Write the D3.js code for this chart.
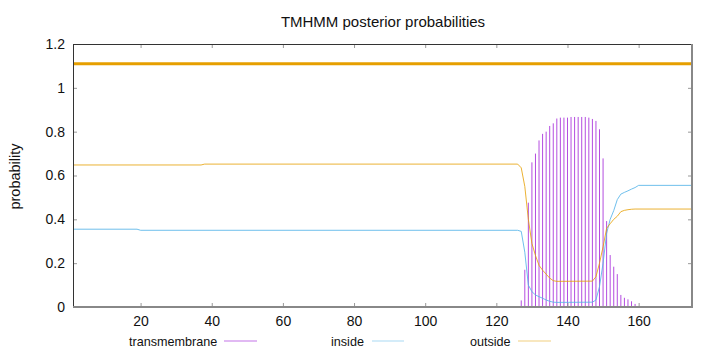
<!DOCTYPE html>
<html>
<head>
<meta charset="utf-8">
<script src="https://cdn.jsdelivr.net/npm/d3@7"></script>
<style>
  html, body { margin: 0; padding: 0; background: #fff; }
  svg { display: block; font-family: "Liberation Sans", Arial, Helvetica, sans-serif; }
</style>
</head>
<body>
<svg id="chart" width="720" height="352"></svg>
<script>
// ---- data ----
const seqLength = 175;
const xTicks = [20, 40, 60, 80, 100, 120, 140, 160];
const yTicks = [0, 0.2, 0.4, 0.6, 0.8, 1, 1.2];
const yTickLabels = ["0", "0.2", "0.4", "0.6", "0.8", "1", "1.2"];
const legendLabels = ["transmembrane", "inside", "outside"];

// transmembrane posterior probability (impulses) per residue
const tmPos = [20,21,22,23,24,25,26,27,28,29,30,31,32,33,34,35,36,37,
  127,128,129,130,131,132,133,134,135,136,137,138,139,140,141,142,143,144,145,146,147,148,149,150,151,152,153,154,155,156,157,158,159];
const tmVal = [0.004,0.004,0.004,0.004,0.004,0.004,0.004,0.004,0.004,0.004,0.004,0.004,0.004,0.004,0.004,0.004,0.004,0.004,
  0.03,0.17,0.476,0.66,0.70,0.76,0.79,0.80,0.826,0.838,0.86,0.864,0.864,0.864,0.867,0.867,0.867,0.867,0.867,0.864,0.858,0.849,0.811,0.678,0.392,0.237,0.184,0.15,0.055,0.042,0.035,0.026,0.014];

// inside probability (line) — vertices where it changes
const insidePos = [1, 19, 20, 126, 127, 128, 129, 130, 131, 132, 133, 134, 135, 136, 137, 147, 148, 149, 150, 151, 152, 153, 154, 155, 156, 157, 158, 159, 160, 175];
const insideVal = [0.355, 0.355, 0.350, 0.350, 0.345, 0.25, 0.10, 0.07, 0.055, 0.047, 0.040, 0.032, 0.026, 0.022, 0.021, 0.022, 0.032, 0.093, 0.20, 0.336, 0.40, 0.44, 0.49, 0.515, 0.523, 0.53, 0.538, 0.545, 0.555, 0.555];

// outside probability (line) — vertices where it changes
const outsidePos = [1, 37, 38, 126, 127, 128, 129, 130, 131, 132, 133, 134, 135, 136, 137, 147, 148, 149, 150, 151, 152, 153, 154, 155, 156, 157, 158, 159, 175];
const outsideVal = [0.648, 0.648, 0.652, 0.652, 0.635, 0.55, 0.40, 0.29, 0.235, 0.19, 0.168, 0.15, 0.132, 0.12, 0.117, 0.118, 0.138, 0.20, 0.275, 0.359, 0.38, 0.40, 0.414, 0.435, 0.441, 0.444, 0.446, 0.447, 0.447];

// predicted topology band (whole sequence outside)
const topoStart = [1];
const topoEnd = [175];
const topoLevel = [1.11];

// ---- drawing ----
const svg = d3.select("#chart");
const mLeft = 73, mRight = 692, mTop = 44, mBottom = 307;
const x = d3.scaleLinear().domain([1, seqLength]).range([mLeft, mRight]);
const y = d3.scaleLinear().domain([0, 1.2]).range([mBottom, mTop]);

const cTM = "#9400D3", cIn = "#56B4E9", cOut = "#E69F00";

// title
svg.append("text").attr("x", (mLeft + mRight) / 2 + 0.5).attr("y", 26.5)
  .attr("text-anchor", "middle").attr("font-size", 15).attr("fill", "#111")
  .text("TMHMM posterior probabilities");

// y label
svg.append("text").attr("transform", `translate(19.5,${(mTop + mBottom) / 2 + 1}) rotate(-90)`)
  .attr("text-anchor", "middle").attr("font-size", 14.5).attr("fill", "#111")
  .text("probability");

// impulses
svg.append("g").selectAll("line").data(tmPos.map((p, i) => [p, tmVal[i]])).join("line")
  .attr("x1", d => x(d[0])).attr("x2", d => x(d[0]))
  .attr("y1", y(0)).attr("y2", d => y(d[1]))
  .attr("stroke", cTM).attr("stroke-opacity", 0.7).attr("stroke-width", 1);

// lines
const line = d3.line().x(d => x(d[0])).y(d => y(d[1]));
svg.append("path").datum(insidePos.map((p, i) => [p, insideVal[i]]))
  .attr("d", line).attr("fill", "none").attr("stroke", cIn).attr("stroke-opacity", 0.85).attr("stroke-width", 1);
svg.append("path").datum(outsidePos.map((p, i) => [p, outsideVal[i]]))
  .attr("d", line).attr("fill", "none").attr("stroke", cOut).attr("stroke-opacity", 0.8).attr("stroke-width", 1);

// topology band
svg.append("g").selectAll("line").data(topoStart.map((s, i) => [s, topoEnd[i], topoLevel[i]])).join("line")
  .attr("x1", d => x(d[0])).attr("x2", d => x(d[1]))
  .attr("y1", d => y(d[2])).attr("y2", d => y(d[2]))
  .attr("stroke", cOut).attr("stroke-width", 3);

// axes
const xAxis = svg.append("g").attr("transform", `translate(0,${mBottom})`)
  .call(d3.axisBottom(x).tickValues(xTicks).tickSizeInner(-4).tickSizeOuter(0).tickPadding(9.5).tickFormat(d3.format("d")));
const xAxisTop = svg.append("g").attr("transform", `translate(0,${mTop})`)
  .call(d3.axisTop(x).tickValues(xTicks).tickSizeInner(-4).tickSizeOuter(0).tickFormat(""));
const yAxis = svg.append("g").attr("transform", `translate(${mLeft},0)`)
  .call(d3.axisLeft(y).tickValues(yTicks).tickSizeInner(-4).tickSizeOuter(0).tickPadding(8)
    .tickFormat((d, i) => yTickLabels[i]));
const yAxisR = svg.append("g").attr("transform", `translate(${mRight},0)`)
  .call(d3.axisRight(y).tickValues(yTicks).tickSizeInner(-4).tickSizeOuter(0).tickFormat(""));
[xAxis, xAxisTop, yAxis, yAxisR].forEach(g => {
  g.select(".domain").remove();
  g.selectAll(".tick line").attr("stroke", "#999");
  g.selectAll("text").attr("font-size", 14).attr("fill", "#111").attr("font-family", "\"Liberation Sans\", Arial, sans-serif");
});

// border
svg.append("line").attr("x1", mLeft + 0.5).attr("x2", mLeft + 0.5).attr("y1", mTop).attr("y2", mBottom).attr("stroke", "#333");
svg.append("line").attr("x1", mLeft).attr("x2", mRight).attr("y1", mTop + 0.5).attr("y2", mTop + 0.5).attr("stroke", "#333");
svg.append("line").attr("x1", mLeft).attr("x2", mRight + 1).attr("y1", mBottom).attr("y2", mBottom).attr("stroke", "#888").attr("stroke-width", 2);
svg.append("line").attr("x1", mRight).attr("x2", mRight).attr("y1", mTop).attr("y2", mBottom).attr("stroke", "#888").attr("stroke-width", 2);

// legend
const legendText = [129, 331, 470];
const legendLine = [[224, 257], [372, 404], [518, 551]];
const legendColors = [cTM, cIn, cOut];
const legendOpacity = [0.55, 0.5, 0.5];
const lg = svg.append("g");
legendLabels.forEach((lab, i) => {
  lg.append("text").attr("x", legendText[i]).attr("y", 346).attr("font-size", 12.6).attr("fill", "#111").text(lab);
  lg.append("line").attr("x1", legendLine[i][0]).attr("x2", legendLine[i][1]).attr("y1", 341).attr("y2", 341)
    .attr("stroke", legendColors[i]).attr("stroke-opacity", legendOpacity[i]).attr("stroke-width", 1);
});
</script>
</body>
</html>
